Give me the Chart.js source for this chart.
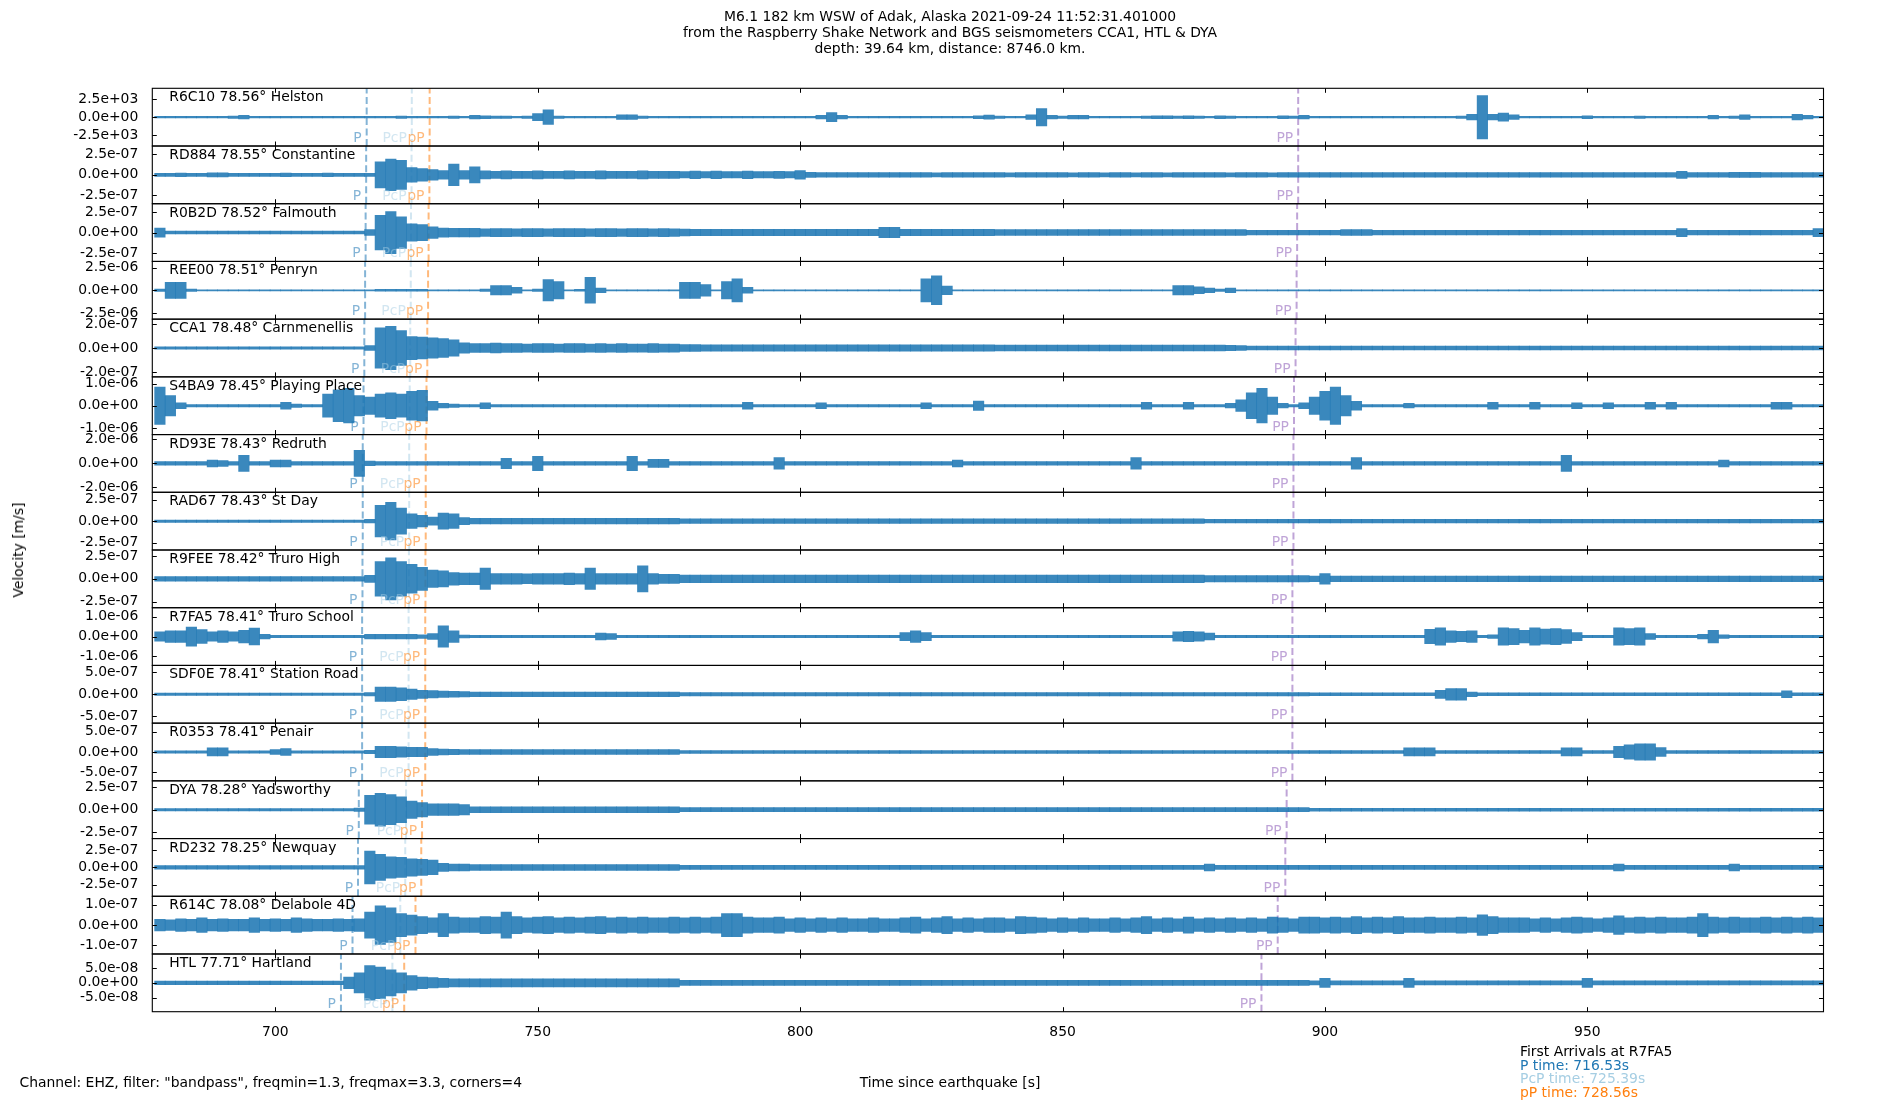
<!DOCTYPE html>
<html>
<head>
<meta charset="utf-8">
<title>M6.1 Adak record section</title>
<script src="https://cdn.jsdelivr.net/npm/chart.js@4.4.1/dist/chart.umd.min.js"></script>
<style>
  body { margin: 0; background: #fff; }
  #wrap { position: relative; width: 1900px; height: 1100px; font-family: "DejaVu Sans", sans-serif; font-size: 13.9px; color: #000; }
  #c { position: absolute; left: 0; top: 0; width: 1900px; height: 1100px; }
  .txt { position: absolute; white-space: nowrap; }
</style>
</head>
<body>
<div id="wrap">
  <canvas id="c" width="1900" height="1100"></canvas>
  <div class="txt" style="left:0;width:1900px;top:8px;text-align:center;line-height:16px">M6.1 182 km WSW of Adak, Alaska 2021-09-24 11:52:31.401000<br>from the Raspberry Shake Network and BGS seismometers CCA1, HTL &amp; DYA<br>depth: 39.64 km, distance: 8746.0 km.</div>
  <div class="txt" style="left:18px;top:550px;transform:translate(-50%,-50%) rotate(-90deg)">Velocity [m/s]</div>
  <div class="txt" style="left:19.5px;top:1074px;line-height:16px">Channel: EHZ, filter: "bandpass", freqmin=1.3, freqmax=3.3, corners=4</div>
  <div class="txt" style="left:950px;top:1074px;line-height:16px;transform:translateX(-50%)">Time since earthquake [s]</div>
  <div class="txt" id="arrivals" style="left:1520px;top:1045px;line-height:13.6px"></div>
</div>
<script>
// stations, top to bottom
const stations = ['R6C10', 'RD884', 'R0B2D', 'REE00', 'CCA1', 'S4BA9', 'RD93E', 'RAD67', 'R9FEE', 'R7FA5', 'SDF0E', 'R0353', 'DYA', 'RD232', 'R614C', 'HTL'];
const distances = [78.56, 78.55, 78.52, 78.51, 78.48, 78.45, 78.43, 78.43, 78.42, 78.41, 78.41, 78.41, 78.28, 78.25, 78.08, 77.71];
const places = ['Helston', 'Constantine', 'Falmouth', 'Penryn', 'Carnmenellis', 'Playing Place', 'Redruth', 'St Day', 'Truro High', 'Truro School', 'Station Road', 'Penair', 'Yadsworthy', 'Newquay', 'Delabole 4D', 'Hartland'];

// y tick value and axis limit per panel (m/s)
const yTick = [2500, 2.5e-7, 2.5e-7, 2.5e-6, 2e-7, 1e-6, 2e-6, 2.5e-7, 2.5e-7, 1e-6, 5e-7, 5e-7, 2.5e-7, 2.5e-7, 1e-7, 5e-8];
const yLimit = [4000, 3.54e-7, 3.52e-7, 3.18e-6, 2.4e-7, 1.3e-6, 2.4e-6, 3.35e-7, 3.17e-7, 1.46e-6, 6.5e-7, 7.1e-7, 3.17e-7, 4.19e-7, 1.42e-7, 9.7e-8];

// arrival times (s since origin)
const tP   = [717.4, 717.3, 717.2, 717.1, 716.95, 716.8, 716.65, 716.65, 716.6, 716.53, 716.53, 716.53, 715.9, 715.75, 714.7, 712.5];
const tPcP = [726.0, 725.95, 725.85, 725.8, 725.7, 725.6, 725.5, 725.5, 725.45, 725.39, 725.39, 725.39, 724.9, 724.75, 723.8, 722.3];
const tpP  = [729.4, 729.35, 729.2, 729.1, 728.95, 728.8, 728.65, 728.65, 728.6, 728.56, 728.56, 728.56, 727.95, 727.8, 726.7, 724.55];
const tPP  = [894.9, 894.9, 894.7, 894.6, 894.4, 894.1, 894.0, 894.0, 893.8, 893.8, 893.8, 893.8, 892.7, 892.45, 891.0, 887.9];

const xMin = 676.55, xMax = 995.0;
const xTicks = [700, 750, 800, 850, 900, 950];

// 2 s windows (centre times)
const binTime = [
  678, 680, 682, 684, 686, 688, 690, 692, 694, 696,
  698, 700, 702, 704, 706, 708, 710, 712, 714, 716,
  718, 720, 722, 724, 726, 728, 730, 732, 734, 736,
  738, 740, 742, 744, 746, 748, 750, 752, 754, 756,
  758, 760, 762, 764, 766, 768, 770, 772, 774, 776,
  778, 780, 782, 784, 786, 788, 790, 792, 794, 796,
  798, 800, 802, 804, 806, 808, 810, 812, 814, 816,
  818, 820, 822, 824, 826, 828, 830, 832, 834, 836,
  838, 840, 842, 844, 846, 848, 850, 852, 854, 856,
  858, 860, 862, 864, 866, 868, 870, 872, 874, 876,
  878, 880, 882, 884, 886, 888, 890, 892, 894, 896,
  898, 900, 902, 904, 906, 908, 910, 912, 914, 916,
  918, 920, 922, 924, 926, 928, 930, 932, 934, 936,
  938, 940, 942, 944, 946, 948, 950, 952, 954, 956,
  958, 960, 962, 964, 966, 968, 970, 972, 974, 976,
  978, 980, 982, 984, 986, 988, 990, 992, 994
];

// peak |velocity| in each window, % of the panel's y limit
const ampR6C10 = [
  3, 3, 3, 3, 3, 3, 3, 4, 6, 3,  3, 3, 3, 3, 3, 3, 3, 3, 3, 3,
  3, 3, 3, 4, 3, 3, 3, 3, 4, 3,  6, 5, 4, 4, 3, 4, 12, 25, 4, 3,
  3, 3, 3, 3, 8, 8, 4, 3, 3, 3,  3, 3, 3, 3, 3, 3, 3, 3, 3, 3,
  3, 3, 3, 6, 16, 6, 3, 3, 3, 3,  3, 3, 3, 3, 3, 3, 3, 3, 5, 7,
  4, 3, 3, 8, 30, 6, 4, 6, 6, 3,  3, 3, 3, 3, 4, 5, 5, 4, 5, 4,
  3, 5, 4, 3, 3, 3, 3, 5, 4, 6,  3, 3, 3, 3, 3, 3, 3, 3, 3, 3,
  3, 3, 3, 3, 4, 10, 75, 10, 14, 8,  3, 3, 3, 3, 3, 3, 5, 3, 3, 3,
  3, 4, 3, 3, 3, 3, 3, 3, 6, 3,  4, 8, 3, 3, 3, 3, 10, 6, 3
];
const ampRD884 = [
  5, 5, 6, 5, 5, 7, 7, 5, 5, 5,  5, 5, 6, 5, 5, 5, 6, 5, 5, 5,
  5, 45, 55, 50, 25, 22, 18, 15, 37, 15,  28, 14, 12, 14, 12, 12, 14, 12, 12, 14,
  12, 12, 14, 12, 12, 12, 14, 12, 12, 12,  11, 13, 11, 13, 11, 11, 13, 11, 11, 12,
  11, 15, 9, 8, 8, 8, 8, 8, 8, 8,  8, 8, 8, 8, 7, 8, 8, 8, 8, 8,
  8, 7, 8, 8, 8, 8, 8, 7, 8, 8,  7, 8, 8, 7, 8, 8, 7, 8, 8, 8,
  8, 8, 7, 8, 8, 8, 7, 8, 8, 8,  8, 8, 8, 8, 8, 8, 8, 8, 8, 8,
  8, 8, 8, 8, 8, 8, 8, 8, 8, 8,  8, 8, 8, 8, 8, 8, 8, 8, 8, 8,
  8, 8, 8, 8, 8, 12, 8, 8, 8, 8,  9, 9, 9, 8, 8, 8, 8, 8, 8
];
const ampR0B2D = [
  16, 5, 5, 5, 5, 5, 5, 5, 5, 5,  5, 5, 5, 5, 5, 5, 5, 5, 5, 5,
  10, 60, 73, 55, 30, 28, 20, 16, 15, 15,  15, 13, 14, 14, 13, 14, 14, 13, 14, 14,
  14, 13, 14, 14, 13, 14, 14, 13, 14, 13,  12, 11, 11, 11, 11, 11, 11, 11, 11, 11,
  11, 11, 11, 11, 11, 11, 11, 11, 11, 18,  18, 11, 11, 11, 11, 11, 11, 11, 11, 11,
  10, 10, 10, 10, 10, 10, 10, 10, 10, 10,  10, 10, 10, 10, 10, 10, 10, 10, 10, 10,
  10, 10, 10, 10, 8, 8, 8, 8, 8, 8,  8, 8, 8, 10, 10, 10, 8, 8, 8, 8,
  8, 8, 8, 8, 8, 8, 8, 8, 8, 8,  8, 8, 8, 8, 8, 8, 8, 8, 8, 8,
  8, 8, 8, 8, 8, 14, 8, 8, 8, 8,  8, 8, 8, 8, 8, 8, 8, 8, 14
];
const ampREE00 = [
  4, 28, 28, 4, 2, 2, 2, 2, 2, 2,  2, 2, 2, 2, 2, 2, 2, 2, 2, 2,
  2, 3, 3, 3, 3, 3, 2, 2, 2, 2,  2, 4, 16, 16, 10, 2, 4, 37, 30, 2,
  3, 45, 8, 2, 2, 2, 2, 2, 2, 2,  28, 28, 20, 2, 30, 40, 10, 2, 2, 2,
  2, 2, 2, 2, 2, 2, 2, 2, 2, 2,  2, 2, 2, 40, 50, 15, 2, 2, 2, 2,
  2, 2, 2, 2, 2, 2, 2, 2, 2, 2,  2, 2, 2, 2, 2, 2, 2, 16, 16, 12,
  8, 4, 8, 2, 2, 2, 2, 2, 2, 2,  2, 2, 2, 2, 2, 2, 2, 2, 2, 2,
  2, 2, 2, 2, 2, 2, 2, 2, 2, 2,  2, 2, 2, 2, 2, 2, 2, 2, 2, 2,
  2, 2, 2, 2, 2, 2, 2, 2, 2, 2,  2, 2, 2, 2, 2, 2, 2, 2, 2
];
const ampCCA1 = [
  4, 4, 4, 4, 4, 4, 4, 4, 4, 4,  4, 4, 4, 4, 4, 4, 4, 4, 4, 4,
  8, 70, 75, 60, 40, 38, 35, 33, 28, 18,  15, 15, 17, 15, 15, 14, 15, 15, 14, 15,
  15, 14, 15, 14, 15, 14, 14, 15, 14, 14,  12, 12, 11, 11, 11, 11, 11, 11, 11, 11,
  11, 11, 11, 11, 11, 11, 11, 11, 11, 11,  11, 11, 11, 11, 11, 11, 11, 11, 11, 11,
  10, 10, 10, 10, 10, 10, 10, 10, 10, 10,  10, 10, 10, 10, 10, 10, 10, 10, 10, 10,
  10, 10, 9, 8, 7, 7, 7, 7, 7, 7,  7, 7, 7, 7, 7, 7, 7, 7, 7, 7,
  7, 7, 7, 7, 7, 7, 7, 7, 7, 7,  7, 7, 7, 7, 7, 7, 7, 7, 7, 7,
  7, 7, 7, 7, 7, 7, 7, 7, 7, 7,  7, 7, 7, 7, 7, 7, 7, 7, 7
];
const ampS4BA9 = [
  65, 35, 10, 4, 4, 4, 4, 4, 4, 4,  4, 4, 12, 6, 4, 4, 40, 55, 60, 35,
  30, 40, 45, 40, 50, 53, 15, 8, 6, 4,  4, 10, 4, 4, 4, 4, 4, 4, 4, 4,
  4, 4, 4, 4, 4, 4, 4, 4, 4, 4,  4, 4, 4, 4, 4, 4, 12, 4, 4, 4,
  4, 4, 4, 10, 4, 4, 4, 4, 4, 4,  4, 4, 4, 10, 4, 4, 4, 4, 16, 4,
  4, 4, 4, 4, 4, 4, 4, 4, 4, 4,  4, 4, 4, 4, 12, 4, 4, 4, 12, 4,
  4, 4, 8, 20, 45, 60, 30, 8, 4, 10,  30, 50, 65, 35, 15, 4, 4, 4, 4, 8,
  4, 4, 4, 4, 4, 4, 4, 12, 4, 4,  4, 12, 4, 4, 4, 10, 4, 4, 10, 4,
  4, 4, 12, 4, 12, 4, 4, 4, 4, 4,  4, 4, 4, 4, 12, 12, 4, 4, 4
];
const ampRD93E = [
  6, 6, 6, 6, 6, 12, 10, 6, 28, 6,  6, 12, 12, 6, 6, 6, 6, 6, 6, 45,
  8, 6, 6, 6, 6, 6, 6, 6, 6, 6,  6, 6, 6, 18, 6, 6, 25, 6, 6, 6,
  6, 6, 6, 6, 6, 25, 6, 14, 14, 6,  6, 6, 6, 6, 6, 6, 6, 6, 6, 20,
  6, 6, 6, 6, 6, 6, 6, 6, 6, 6,  6, 6, 6, 6, 6, 6, 12, 6, 6, 6,
  6, 6, 6, 6, 6, 6, 6, 6, 6, 6,  6, 6, 6, 20, 6, 6, 6, 6, 6, 6,
  6, 6, 6, 6, 6, 6, 6, 6, 6, 6,  6, 6, 6, 6, 20, 6, 6, 6, 6, 6,
  6, 6, 6, 6, 6, 6, 6, 6, 6, 6,  6, 6, 6, 6, 28, 6, 6, 6, 6, 6,
  6, 6, 6, 6, 6, 6, 6, 6, 6, 12,  6, 6, 6, 6, 6, 6, 6, 6, 6
];
const ampRAD67 = [
  4, 4, 4, 4, 4, 4, 4, 4, 4, 4,  4, 4, 4, 4, 4, 4, 4, 4, 4, 4,
  6, 55, 65, 45, 25, 20, 14, 28, 25, 12,  10, 10, 10, 10, 10, 10, 10, 10, 10, 10,
  10, 10, 10, 10, 10, 10, 10, 10, 10, 10,  8, 8, 8, 8, 8, 8, 8, 8, 8, 8,
  8, 8, 8, 8, 8, 8, 8, 8, 8, 8,  8, 8, 8, 8, 8, 8, 8, 8, 8, 8,
  8, 8, 8, 8, 8, 8, 8, 8, 8, 8,  8, 8, 8, 8, 8, 8, 8, 8, 8, 8,
  6, 6, 6, 6, 6, 6, 6, 6, 6, 6,  6, 6, 6, 6, 6, 6, 6, 6, 6, 6,
  6, 6, 6, 6, 6, 6, 6, 6, 6, 6,  6, 6, 6, 6, 6, 6, 6, 6, 6, 6,
  6, 6, 6, 6, 6, 6, 6, 6, 6, 6,  6, 6, 6, 6, 6, 6, 6, 6, 6
];
const ampR9FEE = [
  8, 8, 8, 8, 8, 8, 8, 8, 8, 8,  8, 8, 8, 8, 8, 8, 8, 8, 8, 8,
  12, 60, 73, 60, 50, 40, 30, 28, 22, 20,  20, 37, 18, 18, 18, 17, 18, 18, 18, 20,
  18, 37, 18, 18, 18, 18, 45, 18, 16, 16,  13, 13, 13, 13, 13, 13, 13, 13, 13, 13,
  13, 13, 13, 13, 13, 13, 13, 13, 13, 13,  13, 13, 13, 13, 13, 13, 13, 13, 13, 13,
  13, 13, 13, 13, 13, 13, 13, 13, 13, 13,  13, 13, 13, 13, 13, 13, 13, 13, 13, 13,
  11, 11, 11, 11, 11, 11, 11, 11, 11, 11,  10, 18, 10, 10, 10, 10, 10, 10, 10, 10,
  10, 10, 10, 10, 10, 10, 10, 10, 10, 10,  10, 10, 10, 10, 10, 10, 10, 10, 10, 10,
  10, 10, 10, 10, 10, 10, 10, 10, 10, 10,  10, 10, 10, 10, 10, 10, 10, 10, 10
];
const ampR7FA5 = [
  16, 20, 20, 33, 24, 16, 20, 16, 22, 29,  8, 4, 4, 4, 4, 4, 4, 4, 4, 4,
  8, 8, 8, 8, 8, 6, 10, 37, 20, 5,  4, 4, 4, 4, 4, 4, 4, 4, 4, 4,
  4, 4, 12, 10, 4, 4, 4, 4, 4, 4,  4, 4, 4, 4, 4, 4, 4, 4, 4, 4,
  4, 4, 4, 4, 4, 4, 4, 4, 4, 4,  4, 14, 20, 14, 4, 4, 4, 4, 4, 4,
  4, 4, 4, 4, 4, 4, 4, 4, 4, 4,  4, 4, 4, 4, 4, 4, 4, 16, 18, 16,
  12, 4, 4, 4, 4, 4, 4, 4, 4, 4,  4, 4, 4, 4, 4, 4, 4, 4, 4, 4,
  4, 25, 30, 20, 18, 20, 4, 6, 30, 28,  22, 30, 26, 28, 24, 14, 4, 4, 4, 30,
  28, 30, 10, 4, 4, 4, 4, 8, 22, 6,  4, 4, 4, 4, 4, 4, 4, 4, 4
];
const ampSDF0E = [
  4, 4, 4, 4, 4, 4, 4, 4, 4, 4,  4, 4, 4, 4, 4, 4, 4, 4, 4, 4,
  6, 25, 25, 22, 18, 14, 13, 11, 10, 9,  8, 8, 8, 8, 8, 8, 8, 8, 8, 8,
  8, 8, 8, 8, 8, 8, 8, 8, 8, 8,  6, 6, 6, 6, 6, 6, 6, 6, 6, 6,
  6, 6, 6, 6, 6, 6, 6, 6, 6, 6,  6, 6, 6, 6, 6, 6, 6, 6, 6, 6,
  6, 6, 6, 6, 6, 6, 6, 6, 6, 6,  6, 6, 6, 6, 6, 6, 6, 6, 6, 6,
  6, 6, 6, 6, 6, 6, 6, 6, 6, 6,  5, 5, 5, 5, 5, 5, 5, 5, 5, 5,
  5, 5, 14, 20, 20, 8, 5, 5, 5, 5,  5, 5, 5, 5, 5, 5, 5, 5, 5, 5,
  5, 5, 5, 5, 5, 5, 5, 5, 5, 5,  5, 5, 5, 5, 5, 12, 5, 5, 5
];
const ampR0353 = [
  4, 4, 4, 4, 4, 14, 14, 4, 4, 4,  4, 8, 12, 4, 4, 4, 4, 4, 4, 4,
  6, 20, 20, 18, 16, 16, 12, 10, 9, 8,  8, 8, 8, 8, 8, 8, 8, 8, 8, 8,
  8, 8, 8, 8, 8, 8, 8, 8, 8, 8,  5, 5, 5, 5, 5, 5, 5, 5, 5, 5,
  5, 5, 5, 5, 5, 5, 5, 5, 5, 5,  5, 5, 5, 5, 5, 5, 5, 5, 5, 5,
  5, 5, 5, 5, 5, 5, 5, 5, 5, 5,  5, 5, 5, 5, 5, 5, 5, 5, 5, 5,
  5, 5, 5, 5, 5, 5, 5, 5, 5, 5,  5, 5, 5, 5, 5, 5, 5, 5, 5, 14,
  14, 14, 5, 5, 5, 5, 5, 5, 5, 5,  5, 5, 5, 5, 14, 14, 5, 5, 5, 20,
  25, 28, 28, 15, 5, 5, 5, 5, 5, 5,  5, 5, 5, 5, 5, 5, 5, 5, 5
];
const ampDYA = [
  4, 4, 4, 4, 4, 4, 4, 4, 4, 4,  4, 4, 4, 4, 4, 4, 4, 4, 4, 6,
  50, 57, 52, 45, 30, 25, 20, 20, 20, 18,  10, 10, 10, 10, 10, 10, 10, 10, 10, 10,
  10, 10, 10, 10, 10, 10, 10, 10, 10, 10,  7, 7, 7, 7, 7, 7, 7, 7, 7, 7,
  7, 7, 7, 7, 7, 7, 7, 7, 7, 7,  7, 7, 7, 7, 7, 7, 7, 7, 7, 7,
  7, 7, 7, 7, 7, 7, 7, 7, 7, 7,  7, 7, 7, 7, 7, 7, 7, 7, 7, 7,
  7, 7, 7, 7, 7, 7, 7, 7, 7, 7,  5, 5, 5, 5, 5, 5, 5, 5, 5, 5,
  5, 5, 5, 5, 5, 5, 5, 5, 5, 5,  5, 5, 5, 5, 5, 5, 5, 5, 5, 5,
  5, 5, 5, 5, 5, 5, 5, 5, 5, 5,  5, 5, 5, 5, 5, 5, 5, 5, 5
];
const ampRD232 = [
  6, 6, 6, 6, 6, 6, 6, 6, 6, 6,  6, 6, 6, 6, 6, 6, 6, 6, 6, 6,
  57, 45, 37, 35, 30, 28, 25, 14, 12, 12,  10, 10, 10, 10, 10, 10, 10, 10, 10, 10,
  10, 10, 10, 10, 10, 10, 10, 10, 10, 10,  7, 7, 7, 7, 7, 7, 7, 7, 7, 7,
  7, 7, 7, 7, 7, 7, 7, 7, 7, 7,  7, 7, 7, 7, 7, 7, 7, 7, 7, 7,
  7, 7, 7, 7, 7, 7, 7, 7, 7, 7,  7, 7, 7, 7, 7, 7, 7, 7, 7, 7,
  12, 7, 7, 7, 7, 7, 7, 7, 7, 7,  7, 7, 7, 7, 7, 7, 7, 7, 7, 7,
  7, 7, 7, 7, 7, 7, 7, 7, 7, 7,  7, 7, 7, 7, 7, 7, 7, 7, 7, 12,
  7, 7, 7, 7, 7, 7, 7, 7, 7, 7,  12, 7, 7, 7, 7, 7, 7, 7, 7
];
const ampR614C = [
  20, 18, 22, 20, 25, 20, 22, 20, 20, 25,  20, 22, 20, 25, 22, 20, 20, 22, 20, 22,
  45, 67, 60, 40, 35, 30, 25, 40, 28, 25,  25, 30, 28, 45, 30, 25, 28, 30, 25, 28,
  25, 28, 30, 25, 28, 25, 28, 25, 25, 28,  25, 28, 25, 28, 40, 40, 28, 25, 25, 28,
  22, 25, 22, 25, 22, 25, 22, 22, 25, 22,  22, 25, 28, 22, 25, 30, 22, 25, 22, 25,
  25, 22, 30, 28, 25, 22, 25, 22, 25, 22,  22, 25, 22, 25, 30, 22, 25, 22, 28, 22,
  25, 22, 25, 22, 25, 22, 28, 25, 22, 28,  28, 25, 28, 25, 30, 25, 28, 25, 30, 25,
  25, 28, 25, 25, 28, 25, 36, 30, 25, 25,  25, 22, 25, 22, 25, 28, 25, 22, 25, 32,
  25, 28, 25, 28, 25, 25, 28, 40, 28, 25,  28, 25, 25, 28, 25, 28, 25, 28, 25
];
const ampHTL = [
  6, 6, 6, 6, 6, 6, 6, 6, 6, 6,  6, 6, 6, 6, 6, 6, 6, 6, 20, 35,
  60, 55, 45, 35, 25, 20, 18, 16, 14, 14,  14, 14, 14, 14, 14, 14, 14, 14, 14, 14,
  14, 14, 14, 14, 14, 14, 14, 14, 14, 14,  9, 9, 9, 9, 9, 9, 9, 9, 9, 9,
  9, 9, 9, 9, 9, 9, 9, 9, 9, 9,  9, 9, 9, 9, 9, 9, 9, 9, 9, 9,
  9, 9, 9, 9, 9, 9, 9, 9, 9, 9,  9, 9, 9, 9, 9, 9, 9, 9, 9, 9,
  9, 9, 9, 9, 9, 9, 9, 9, 9, 9,  7, 16, 7, 7, 7, 7, 7, 7, 7, 16,
  7, 7, 7, 7, 7, 7, 7, 7, 7, 7,  7, 7, 7, 7, 7, 7, 16, 7, 7, 7,
  7, 7, 7, 7, 7, 7, 7, 7, 7, 7,  7, 7, 7, 7, 7, 7, 7, 7, 7
];

const traces = [ampR6C10, ampRD884, ampR0B2D, ampREE00, ampCCA1, ampS4BA9, ampRD93E, ampRAD67,
  ampR9FEE, ampR7FA5, ampSDF0E, ampR0353, ampDYA, ampRD232, ampR614C, ampHTL];

const phases = [
  { name: 'P', times: tP, color: 'rgba(31,119,180,0.55)' },
  { name: 'PcP', times: tPcP, color: 'rgba(166,206,227,0.5)' },
  { name: 'pP', times: tpP, color: 'rgba(255,127,14,0.55)' },
  { name: 'PP', times: tPP, color: 'rgba(148,103,189,0.6)' }
];

const FONT = '"DejaVu Sans"';
Chart.defaults.font.family = FONT;
Chart.defaults.font.size = 13.9;
Chart.defaults.color = '#000';

// matplotlib style %.1e
function sci(v) {
  const [m, e] = v.toExponential(1).split('e');
  const n = parseInt(e, 10);
  return m + 'e' + (n < 0 ? '-' : '+') + String(Math.abs(n)).padStart(2, '0');
}

const datasets = [];
const scales = {
  x: {
    type: 'linear', position: 'bottom', min: xMin, max: xMax, offset: false,
    grid: { display: false, offset: false }, border: { display: false },
    afterBuildTicks: s => { s.ticks = xTicks.map(v => ({ value: v })); },
    ticks: { padding: 4, maxRotation: 0, autoSkip: false },
    afterFit: s => { s.height = 30; }
  }
};

stations.forEach((st, i) => {
  const lim = yLimit[i];
  scales['y' + i] = {
    type: 'linear', position: 'left', stack: 'traces', stackWeight: 1, weight: 16 - i,
    min: -lim, max: lim,
    grid: { display: false }, border: { display: false },
    afterBuildTicks: s => { s.ticks = [-yTick[i], 0, yTick[i]].map(v => ({ value: v })); },
    ticks: { padding: 6, autoSkip: false, callback: v => sci(v) },
    afterFit: s => { s.width = 152.3; }
  };
  datasets.push({
    type: 'bar', yAxisID: 'y' + i, order: 1, grouped: false,
    data: binTime.map((t, k) => ({ x: t, y: [-traces[i][k] / 100 * lim, traces[i][k] / 100 * lim] })),
    backgroundColor: 'rgba(31,119,180,0.88)', borderWidth: 0, barPercentage: 1, categoryPercentage: 1
  });
  phases.forEach(ph => {
    datasets.push({
      type: 'line', yAxisID: 'y' + i, order: 2,
      data: [{ x: ph.times[i], y: -lim }, { x: ph.times[i], y: lim }],
      borderColor: ph.color, borderWidth: 2, borderDash: [7, 3.5], pointRadius: 0, fill: false
    });
  });
});

// panel boxes, inward ticks, station names and phase labels
const panelDecor = {
  id: 'panelDecor',
  afterDatasetsDraw(chart) {
    const ctx = chart.ctx;
    const xs = chart.scales.x;
    const { left, right } = chart.chartArea;
    ctx.save();
    stations.forEach((st, i) => {
      const ys = chart.scales['y' + i];
      ctx.font = '13.9px ' + FONT;
      ctx.textBaseline = 'alphabetic';
      ctx.textAlign = 'right';
      phases.forEach(ph => {
        ctx.fillStyle = ph.color;
        ctx.fillText(ph.name, xs.getPixelForValue(ph.times[i]) - 5, ys.bottom - 4);
      });
      ctx.fillStyle = '#000';
      ctx.textAlign = 'left';
      ctx.fillText(st + ' ' + distances[i].toFixed(2) + '\u00b0 ' + places[i], left + 17, ys.top + 13);

      ctx.strokeStyle = '#000';
      ctx.lineWidth = 1.1;
      ctx.strokeRect(left, ys.top, right - left, ys.bottom - ys.top);
      ctx.lineWidth = 1;
      ctx.beginPath();
      xTicks.forEach(v => {
        const px = Math.round(xs.getPixelForValue(v)) + 0.5;
        ctx.moveTo(px, ys.top); ctx.lineTo(px, ys.top + 4.5);
        ctx.moveTo(px, ys.bottom); ctx.lineTo(px, ys.bottom - 4.5);
      });
      [-yTick[i], 0, yTick[i]].forEach(v => {
        const py = Math.round(ys.getPixelForValue(v)) + 0.5;
        ctx.moveTo(left, py); ctx.lineTo(left + 4.5, py);
        ctx.moveTo(right, py); ctx.lineTo(right - 4.5, py);
      });
      ctx.stroke();
    });
    ctx.restore();
  }
};

new Chart(document.getElementById('c'), {
  type: 'bar',
  data: { datasets },
  options: {
    responsive: false,
    devicePixelRatio: 1,
    animation: false,
    layout: { padding: { left: 0, right: 76.5, top: 88.3, bottom: 58.3 } },
    plugins: { legend: { display: false }, tooltip: { enabled: false } },
    scales
  },
  plugins: [panelDecor]
});

// arrival summary for the reference station
const ref = stations.indexOf('R7FA5');
document.getElementById('arrivals').innerHTML =
  '<div>First Arrivals at ' + stations[ref] + '</div>' +
  '<div style="color:#1f77b4">P time: ' + tP[ref].toFixed(2) + 's</div>' +
  '<div style="color:#a6cee3">PcP time: ' + tPcP[ref].toFixed(2) + 's</div>' +
  '<div style="color:#ff7f0e">pP time: ' + tpP[ref].toFixed(2) + 's</div>';
</script>
</body>
</html>
